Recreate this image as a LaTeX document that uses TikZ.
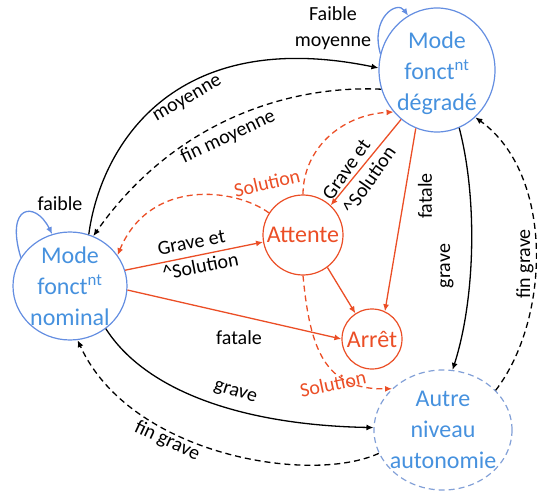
\documentclass[tikz,border=0pt]{standalone}
\usepackage{fontspec}
\setmainfont{Carlito}
\usetikzlibrary{shapes.geometric,arrows.meta}
\definecolor{modeblue}{RGB}{70,145,222}
\definecolor{ringblue}{RGB}{100,142,225}
\definecolor{autblue}{RGB}{130,160,215}
\definecolor{stopred}{RGB}{235,78,38}
\begin{document}
\begin{tikzpicture}[x=1pt,y=-1pt,
  line width=1.3pt,
  >={Latex[length=7pt,width=6pt]},
  ring/.style={ellipse, draw=ringblue, line width=1.2pt, inner sep=0pt},
  autring/.style={ellipse, draw=autblue, line width=1.2pt, dash pattern=on 6pt off 4pt, inner sep=0pt},
  redring/.style={circle, draw=stopred, line width=1.2pt, inner sep=0pt},
  modetext/.style={text=modeblue, font=\fontsize{24}{31}\selectfont, align=center, inner sep=0pt},
  redtext/.style={text=stopred, font=\fontsize{24}{31}\selectfont, inner sep=0pt},
  lbl/.style={font=\fontsize{20}{26}\selectfont, inner sep=0pt},
  twolbl/.style={lbl, align=left, font=\fontsize{20}{25}\selectfont},
  redlbl/.style={lbl, text=stopred},
  bluearc/.style={draw=ringblue, ->},
  blackarc/.style={draw=black, ->},
  blackdash/.style={draw=black, ->, dash pattern=on 6pt off 4pt},
  redarc/.style={draw=stopred, ->},
  reddash/.style={draw=stopred, ->, dash pattern=on 6pt off 4pt}
]
\path[use as bounding box] (0,0) rectangle (537,494);

% states
\node[ring, minimum width=114pt, minimum height=108pt,
  label={[modetext]center:Mode\\fonct\textsuperscript{nt}\\nominal}] (nom) at (70,286) {};
\node[ring, minimum width=116pt, minimum height=124pt,
  label={[modetext, yshift=-3pt]center:Mode\\fonct\textsuperscript{nt}\\dégradé}] (deg) at (437,70) {};
\node[autring, minimum width=138pt, minimum height=120pt,
  label={[modetext]center:Autre\\niveau\\autonomie}] (aut) at (443,430) {};
\node[redring, minimum size=80pt, label={[redtext]center:Attente}] (att) at (303,235) {};
\node[redring, minimum size=60pt, label={[redtext]center:Arrêt}] (arr) at (372,339) {};

% self loops
\draw[bluearc] (nom.150) .. controls (5,205) and (35,200) .. (nom.109);
\draw[bluearc] (deg.164) .. controls (370,18) and (397,0) .. (deg.118);

% transitions between the modes
\draw[blackarc] (nom.70) .. controls (100,150) and (170,25) .. (deg.178);
\draw[blackdash] (deg.199) .. controls (290,85) and (175,120) .. (nom.65);
\draw[blackarc] (deg.291) .. controls (478,200) and (475,300) .. (aut.81);
\draw[blackdash] (aut.37) .. controls (550,320) and (555,175) .. (deg.309);
\draw[blackarc] (nom.310) .. controls (145,390) and (240,425) .. (aut.178);
\draw[blackdash] (aut.200) .. controls (310,485) and (130,455) .. (nom.278);

% waiting and stop
\draw[reddash] (att.147) .. controls (235,188) and (150,178) .. (nom.33);
\draw[reddash] (att.90) .. controls (303,150) and (340,115) .. (deg.224);
\draw[redarc] (deg.234) -- (att.47);
\draw[redarc] (deg.250) -- (arr.65);
\draw[redarc] (att.307) -- (arr.123);
\draw[redarc] (nom.16) -- (att.190);
\draw[redarc] (nom.356) -- (arr.180);
\draw[reddash] (att.270) .. controls (310,350) and (325,390) .. (aut.141);

% labels
\node[lbl] (lfaible) at (60,204) {faible};
\node[lbl, align=center] (lfm) at (333,28) {Faible\\moyenne};
\node[lbl, rotate=30] (lmoy) at (188,100) {moyenne};
\node[lbl, rotate=25] (lfinmoy) at (228,137) {fin moyenne};
\node[redlbl, rotate=13] (lsol1) at (267,183) {Solution};
\node[twolbl, rotate=55] (lgs1) at (359,173) {Grave et\\\textasciicircum Solution};
\node[lbl, rotate=90] (lfat1) at (425,196) {fatale};
\node[twolbl, rotate=11] (lgs2) at (198,254) {Grave et\\\textasciicircum Solution};
\node[lbl] (lfat2) at (239,338) {fatale};
\node[redlbl, rotate=12] (lsol2) at (333,384) {Solution};
\node[lbl, rotate=90] (lgr1) at (447,266) {grave};
\node[lbl, rotate=90] (lfg1) at (525,264) {fin grave};
\node[lbl, rotate=-18] (lgr2) at (235,393) {grave};
\node[lbl, rotate=-25] (lfg2) at (167,441) {fin grave};
\end{tikzpicture}
\end{document}
